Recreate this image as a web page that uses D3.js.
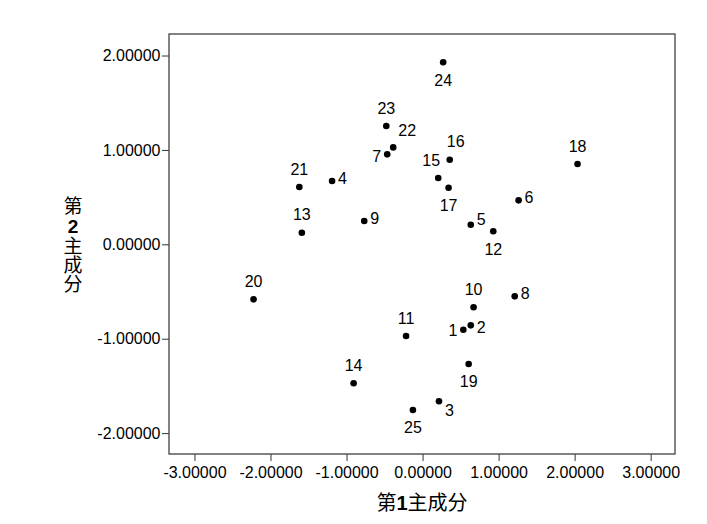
<!DOCTYPE html>
<html>
<head>
<meta charset="utf-8">
<script src="https://cdn.jsdelivr.net/npm/d3@7"></script>
<style>
  body { margin: 0; background: #fff; }
  .tick text { font-family: "Liberation Sans", Arial, sans-serif; font-size: 16px; fill: #000; }
  .tick line { stroke: #333; }
</style>
</head>
<body>
<script>
// case numbers and the two component scores
var ids = ['1','2','3','4','5','6','7','8','9','10','11','12','13','14','15','16','17','18','19','20','21','22','23','24','25'];
var comp1 = [0.536, 0.634, 0.216, -1.190, 0.634, 1.263, -0.465, 1.212, -0.767, 0.671, -0.217, 0.930, -1.588, -0.907, 0.206, 0.357, 0.342, 2.038, 0.606, -2.223, -1.621, -0.386, -0.477, 0.271, -0.127];
var comp2 = [-0.905, -0.858, -1.663, 0.671, 0.208, 0.466, 0.953, -0.551, 0.247, -0.667, -0.971, 0.138, 0.123, -1.472, 0.702, 0.896, 0.600, 0.851, -1.268, -0.583, 0.607, 1.027, 1.253, 1.928, -1.755];
var xTicks = [-3, -2, -1, 0, 1, 2, 3];
var yTicks = [-2, -1, 0, 1, 2];
var xTitle = ['第', '1', '主', '成', '分'];
var yTitle = ['第', '2', '主', '成', '分'];

// where each point label sits relative to its dot: [dx, dy of text centre, anchor]
var labelPlace = {
  '1': [-6, 1, 'end'], '2': [6, 2, 'start'], '3': [6, 9, 'start'], '4': [6, -3, 'start'],
  '5': [6, -5, 'start'], '6': [6, -3, 'start'], '7': [-6, 2, 'end'], '8': [6, -3, 'start'],
  '9': [6, -3, 'start'], '10': [0, -18, 'middle'], '11': [0, -18, 'middle'], '12': [0, 17.5, 'middle'],
  '13': [0, -18, 'middle'], '14': [0, -18, 'middle'], '15': [-7, -18, 'middle'], '16': [6, -18, 'middle'],
  '17': [0, 17.5, 'middle'], '18': [0, -18, 'middle'], '19': [0, 17.5, 'middle'], '20': [0, -18, 'middle'],
  '21': [0, -18, 'middle'], '22': [14, -17, 'middle'], '23': [0, -18, 'middle'], '24': [0, 17.5, 'middle'],
  '25': [0, 17.5, 'middle']
};

var margin = { top: 34, left: 169 },
    width = 506,
    height = 420;

var points = ids.map(function(d, i) { return { id: d, x: comp1[i], y: comp2[i] }; });

var svg = d3.select('body')
  .append('svg')
  .attr('width', 707)
  .attr('height', 524);

var g = svg.append('g')
  .attr('transform', 'translate(' + margin.left + ',' + margin.top + ')');

var x = d3.scaleLinear().domain([-3.335, 3.32]).range([0, width]);
var y = d3.scaleLinear().domain([-2.221, 2.228]).range([height, 0]);

var fmt = function(d) { return d.toFixed(5); };

var xAxis = g.append('g')
  .attr('transform', 'translate(0,' + height + ')')
  .call(d3.axisBottom(x).tickValues(xTicks).tickFormat(fmt).tickSize(7).tickSizeOuter(0).tickPadding(5.5));
xAxis.select('.domain').remove();

var yAxis = g.append('g')
  .call(d3.axisLeft(y).tickValues(yTicks).tickFormat(fmt).tickSize(7).tickSizeOuter(0).tickPadding(1.5));
yAxis.select('.domain').remove();

g.append('rect')
  .attr('width', width)
  .attr('height', height)
  .attr('fill', 'none')
  .attr('stroke', '#404040')
  .attr('stroke-width', 1.3);

g.selectAll('circle')
  .data(points)
  .enter()
  .append('circle')
  .attr('cx', function(d) { return x(d.x); })
  .attr('cy', function(d) { return y(d.y); })
  .attr('r', 3.3)
  .attr('fill', '#000');

g.selectAll('.lbl')
  .data(points)
  .enter()
  .append('text')
  .attr('class', 'lbl')
  .attr('x', function(d) { return x(d.x) + labelPlace[d.id][0]; })
  .attr('y', function(d) { return y(d.y) + labelPlace[d.id][1] + 5.7; })
  .attr('text-anchor', function(d) { return labelPlace[d.id][2]; })
  .style('font-family', '"Liberation Sans", Arial, sans-serif')
  .style('font-size', '16px')
  .text(function(d) { return d.id; });

// axis titles: digit drawn in a bold latin face
function titleSpans(sel, chars) {
  sel.selectAll('tspan')
    .data(chars)
    .enter()
    .append('tspan')
    .style('font-family', function(d) { return /\d/.test(d) ? '"Liberation Sans", Arial' : '"Noto Sans CJK SC"'; })
    .style('font-weight', function(d) { return /\d/.test(d) ? 'bold' : 'normal'; })
    .text(function(d) { return d; });
}

var xt = svg.append('text')
  .attr('x', margin.left + width / 2)
  .attr('y', 510)
  .attr('text-anchor', 'middle')
  .style('font-size', '20px');
titleSpans(xt, xTitle);

// vertical title, characters stacked upright
var yt = svg.append('text')
  .attr('x', 73)
  .attr('y', 245)
  .attr('text-anchor', 'middle')
  .style('writing-mode', 'vertical-rl')
  .style('text-orientation', 'upright')
  .style('font-size', '19px');
titleSpans(yt, yTitle);
</script>
</body>
</html>
